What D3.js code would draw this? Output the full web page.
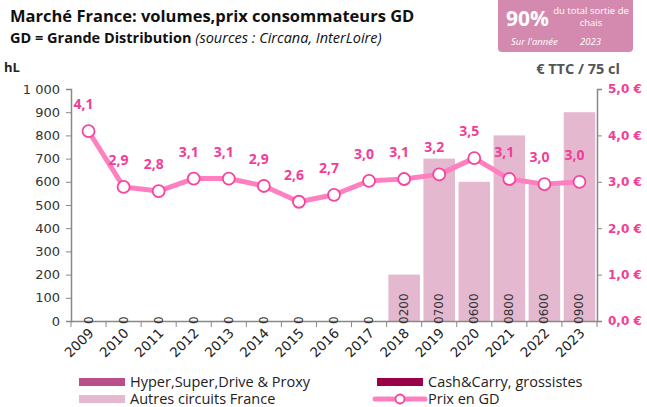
<script src="https://cdn.jsdelivr.net/npm/d3@7"></script>
<body style="margin:0;background:#fff">
<svg id="vis" width="647" height="407"></svg>
<script>
// data
var years = ['2009','2010','2011','2012','2013','2014','2015','2016','2017','2018','2019','2020','2021','2022','2023']
var hyper = [0,0,0,0,0,0,0,0,0,0,0,0,0,0,0]
var cash = [0,0,0,0,0,0,0,0,0,0,0,0,0,0,0]
var autres = [0,0,0,0,0,0,0,0,0,200,700,600,800,600,900]
var prix = [4.09,2.89,2.8,3.07,3.07,2.91,2.57,2.72,3.02,3.06,3.16,3.51,3.06,2.95,3.0]
var leftTicks = [0,100,200,300,400,500,600,700,800,900,1000]
var rightTicks = [0,1,2,3,4,5]

var font = 'Open Sans, Lato, sans-serif'
var numFont = 'DejaVu Sans, sans-serif'
var pinkText = '#f23d96'
var svg = d3.select('#vis').style('font-family', font)

var x = d3.scaleBand().domain(years).range([71, 597]).paddingInner(0.1).paddingOuter(0.05)
var xb = d3.scaleBand().domain(years).range([71, 597])
var y = d3.scaleLinear().domain([0, 1000]).range([321, 89])
var y2 = d3.scaleLinear().domain([0, 5]).range([321, 89])

// titles
svg.append('text').attr('x', 10).attr('y', 22).text('Marché France: volumes,prix consommateurs GD')
  .style('font-size', '16.5px').style('font-weight', 700).style('fill', '#111')
var sub = svg.append('text').attr('x', 10).attr('y', 43).style('font-size', '14.5px').style('fill', '#111')
sub.append('tspan').text('GD = Grande Distribution ').style('font-weight', 700)
sub.append('tspan').text('(sources : Circana, InterLoire)').style('font-style', 'italic')
svg.append('text').attr('x', 4).attr('y', 72).text('hL').style('font-size', '13px').style('font-weight', 700).style('fill', '#222')
svg.append('text').attr('x', 620).attr('y', 74).attr('text-anchor', 'end').text('€ TTC / 75 cl')
  .style('font-size', '14.5px').style('font-weight', 700).style('fill', '#555')

// box
svg.append('rect').attr('x', 498).attr('y', -4).attr('width', 135).attr('height', 56).attr('rx', 4).attr('fill', '#d48aae')
svg.append('text').attr('x', 506).attr('y', 26).text('90%').style('font-size', '21px').style('font-weight', 700).style('fill', '#fff')
svg.append('text').attr('x', 591).attr('y', 14).attr('text-anchor', 'middle').text('du total sortie de').style('font-size', '9.5px').style('fill', '#fff')
svg.append('text').attr('x', 591).attr('y', 26).attr('text-anchor', 'middle').text('chais').style('font-size', '9.5px').style('fill', '#fff')
svg.append('text').attr('x', 511).attr('y', 45).text('Sur l\'année').style('font-size', '9.5px').style('font-style', 'italic').style('fill', '#fff')
svg.append('text').attr('x', 580).attr('y', 45).text('2023').style('font-size', '9.5px').style('font-style', 'italic').style('fill', '#fff')

// bars
svg.selectAll('.bar').data(years).enter().append('rect')
  .attr('x', function(d) { return x(d) })
  .attr('width', x.bandwidth())
  .attr('y', function(d, i) { return y(autres[i]) })
  .attr('height', function(d, i) { return y(0) - y(autres[i]) })
  .attr('fill', '#e4b9d0')

// left axis
var gl = svg.append('g').attr('transform', 'translate(71,0)')
  .call(d3.axisLeft(y).tickValues(leftTicks).tickSize(5).tickFormat(function(d) { return d3.format(',')(d).replace(',', ' ') }))
gl.select('.domain').attr('stroke', '#888').attr('stroke-width', 1.5)
gl.selectAll('.tick line').attr('stroke', '#888')
gl.selectAll('.tick text').style('font-size', '13px').style('fill', '#333').style('font-family', numFont).attr('x', -11)

// right axis
var gr = svg.append('g').attr('transform', 'translate(597,0)')
  .call(d3.axisRight(y2).tickValues(rightTicks).tickSize(5).tickFormat(function(d) { return d3.format('.1f')(d).replace('.', ',') + ' €' }))
gr.select('.domain').attr('stroke', '#888').attr('stroke-width', 1.5)
gr.selectAll('.tick line').attr('stroke', '#888')
gr.selectAll('.tick text').style('font-size', '12px').style('font-weight', 700).style('fill', pinkText).style('font-family', numFont).attr('x', 11)

// bottom axis
var gb = svg.append('g').attr('transform', 'translate(0,321)')
  .call(d3.axisBottom(xb).tickSize(0).tickFormat(''))
gb.select('.domain').attr('stroke', '#888').attr('stroke-width', 1.5)
svg.selectAll('.xt').data(years.concat(['end'])).enter().append('line')
  .attr('x1', function(d, i) { return 71 + i * xb.bandwidth() })
  .attr('x2', function(d, i) { return 71 + i * xb.bandwidth() })
  .attr('y1', 321).attr('y2', 327).attr('stroke', '#888')
svg.selectAll('.xl').data(years).enter().append('text')
  .attr('transform', function(d) { return 'translate(' + (xb(d) + xb.bandwidth() / 2 + 6) + ',334) rotate(-45)' })
  .attr('text-anchor', 'end')
  .text(function(d) { return d })
  .style('font-size', '13.5px').style('fill', '#222').style('font-family', numFont)

// value labels inside bars (rotated)
svg.selectAll('.vl').data(years).enter().append('text')
  .attr('transform', function(d) { return 'translate(' + (x(d) + x.bandwidth() / 2 + 4) + ',' + (y(0) + 3) + ') rotate(-90)' })
  .text(function(d, i) { return autres[i] ? String(hyper[i]) + autres[i] : String(hyper[i]) })
  .style('font-size', '12px').style('fill', '#333').style('font-family', numFont)

// price line
var line = d3.line().x(function(d, i) { return xb(years[i]) + xb.bandwidth() / 2 }).y(function(d) { return y2(d) })
svg.append('path').datum(prix).attr('d', line).attr('fill', 'none').attr('stroke', '#ff80c0').attr('stroke-width', 5).attr('stroke-linejoin', 'round')
svg.selectAll('.pt').data(prix).enter().append('circle')
  .attr('cx', function(d, i) { return xb(years[i]) + xb.bandwidth() / 2 })
  .attr('cy', function(d) { return y2(d) })
  .attr('r', 6).attr('fill', '#fff').attr('stroke', '#f8439e').attr('stroke-width', 1.8)
svg.selectAll('.pl').data(prix).enter().append('text')
  .attr('x', function(d, i) { return xb(years[i]) + xb.bandwidth() / 2 - 5 })
  .attr('y', function(d) { return y2(d) - 22 })
  .attr('text-anchor', 'middle')
  .text(function(d) { return d3.format('.1f')(d).replace('.', ',') })
  .style('font-size', '14px').style('font-weight', 700).style('fill', pinkText)

// legend
var legend = [
  {name: 'Hyper,Super,Drive & Proxy', color: '#b94e8a', x: 79, y: 382, type: 'rect'},
  {name: 'Cash&Carry, grossistes', color: '#990047', x: 377, y: 382, type: 'rect'},
  {name: 'Autres circuits France', color: '#e4b9d0', x: 79, y: 399, type: 'rect'},
  {name: 'Prix en GD', color: '#ff80c0', x: 377, y: 399, type: 'line'}
]
legend.forEach(function(l) {
  if (l.type === 'rect') {
    svg.append('rect').attr('x', l.x).attr('y', l.y - 4).attr('width', 46).attr('height', 8).attr('fill', l.color)
  } else {
    svg.append('line').attr('x1', l.x - 2).attr('x2', l.x + 48).attr('y1', l.y).attr('y2', l.y).attr('stroke', l.color).attr('stroke-width', 5).attr('stroke-linecap', 'round')
    svg.append('circle').attr('cx', l.x + 23).attr('cy', l.y).attr('r', 4.5).attr('fill', '#fff').attr('stroke', '#f8439e').attr('stroke-width', 1.8)
  }
  svg.append('text').attr('x', l.x + 51).attr('y', l.y + 5).text(l.name).style('font-size', '14.5px').style('fill', '#222')
})
</script>
</body>
